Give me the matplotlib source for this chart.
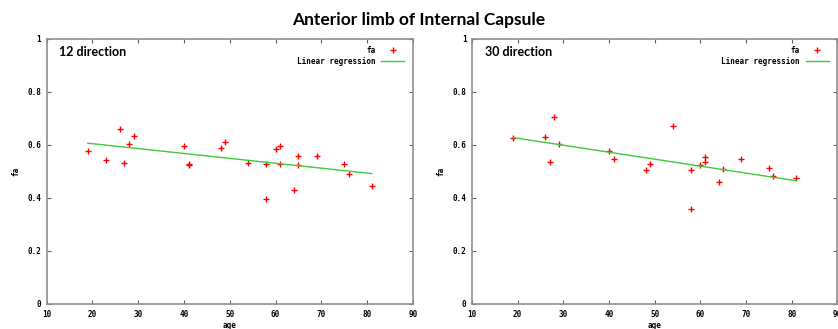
import numpy as np
import matplotlib
matplotlib.use("Agg")
import matplotlib.pyplot as plt

# values
age_12 = [19, 23, 26, 27, 28, 29, 40, 41, 41, 48, 49, 54, 58, 58, 60, 61, 61, 64, 65, 65, 69, 75, 76, 81]
fa_12 = [0.578, 0.543, 0.662, 0.533, 0.605, 0.633, 0.597, 0.527, 0.525, 0.590, 0.613, 0.533,
         0.527, 0.395, 0.586, 0.597, 0.527, 0.432, 0.557, 0.525, 0.557, 0.528, 0.489, 0.446]

age_30 = [19, 26, 27, 28, 29, 40, 41, 48, 49, 54, 58, 58, 60, 61, 61, 64, 65, 69, 75, 76, 81]
fa_30 = [0.627, 0.632, 0.535, 0.706, 0.605, 0.576, 0.549, 0.507, 0.530, 0.670, 0.504, 0.359,
         0.523, 0.555, 0.537, 0.460, 0.510, 0.546, 0.512, 0.484, 0.477]

# regression lines as drawn (intercept, slope), range of ages
reg_12 = (0.642, -0.00185)
reg_30 = (0.678, -0.00263)
reg_range = (19, 81)

x_ticks = [10, 20, 30, 40, 50, 60, 70, 80, 90]
y_ticks = [0, 0.2, 0.4, 0.6, 0.8, 1]
y_labels = ["0", "0.2", "0.4", "0.6", "0.8", "1"]

panels = [("12 direction", age_12, fa_12, reg_12),
          ("30 direction", age_30, fa_30, reg_30)]

mono = {"family": "DejaVu Sans Mono", "weight": "bold", "size": 5.5}

fig = plt.figure(figsize=(8.38, 3.29), dpi=100)
fig.text(0.5, 0.94, "Anterior limb of Internal Capsule", ha="center", va="center",
         fontsize=12.5, fontweight="bold", family="Lato")

boxes = [[0.0555, 0.076, 0.4373, 0.8055], [0.5632, 0.076, 0.4360, 0.8055]]

for box, (name, ages, fas, reg) in zip(boxes, panels):
    ax = fig.add_axes(box)
    ax.plot(ages, fas, "+", color="#ff0000", ms=5, mew=1, label="fa")
    xr = np.array(reg_range)
    ax.plot(xr, reg[0] + reg[1] * xr, color="#3ccc3c", lw=1, label="Linear regression")
    ax.set_xlim(10, 90)
    ax.set_ylim(0, 1)
    ax.set_xticks(x_ticks)
    ax.set_xticklabels([str(t) for t in x_ticks], fontdict=mono)
    ax.set_yticks(y_ticks)
    ax.set_yticklabels(y_labels, fontdict=mono)
    ax.tick_params(direction="in", length=3, width=0.8, color="#606060",
                   top=True, right=True, pad=4)
    for s in ax.spines.values():
        s.set_color("#909090")
        s.set_linewidth(1.2)
    ax.set_xlabel("age", fontdict=mono, labelpad=2)
    ax.set_ylabel("fa", fontdict=mono, labelpad=5)
    ax.text(0.035, 0.95, name, transform=ax.transAxes, fontsize=9,
            fontweight="bold", family="Lato", va="center", ha="left")
    ax.legend(loc="upper right", frameon=False, markerfirst=False,
              prop=mono, handlelength=3, borderaxespad=0.0,
              bbox_to_anchor=(0.985, 0.985),
              labelspacing=0.25, handletextpad=0.8)

fig.savefig("out.png", dpi=100)
